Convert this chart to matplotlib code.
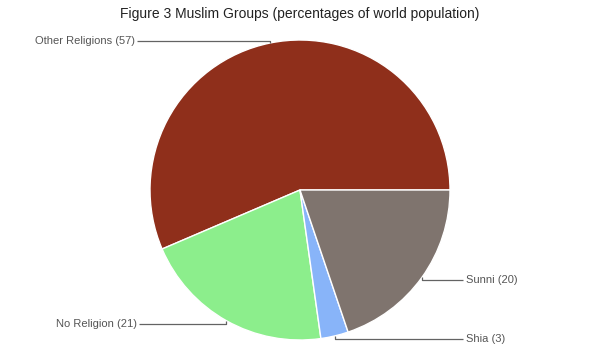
import numpy as np
import matplotlib.pyplot as plt

plt.rcParams['font.family'] = ['Liberation Sans', 'DejaVu Sans']

labels = ["Other Religions", "No Religion", "Shia", "Sunni"]
values = [57, 21, 3, 20]
colors = ["#8f2f1b", "#8cee8c", "#88b4f9", "#7f746e"]

fig = plt.figure(figsize=(6, 3.5), dpi=100)
ax = fig.add_axes([0, 0, 1, 1])
ax.set_xlim(0, 600)
ax.set_ylim(0, 350)
ax.set_aspect("equal")
ax.axis("off")

cx, cy, r = 300, 160, 150
wedges, _ = ax.pie(values, colors=colors, startangle=0, counterclock=True,
                   center=(cx, cy), radius=r, frame=True,
                   wedgeprops=dict(edgecolor="white", linewidth=1))
ax.set_xlim(0, 600)
ax.set_ylim(0, 350)
ax.axis("off")

# label layout: (line y, text x, alignment)
layout = [(309, 135, "right"), (26, 137, "right"), (11, 466, "left"), (70, 466, "left")]
for w, lab, val, (ly, tx, ha) in zip(wedges, labels, values, layout):
    mid = np.deg2rad((w.theta1 + w.theta2) / 2)
    ax_x = cx + r * np.cos(mid)
    ax_y = cy + r * np.sin(mid)
    end_x = tx + 2 if ha == "right" else tx - 3
    ax.plot([ax_x, ax_x, end_x], [ax_y, ly, ly], color="#636363", lw=0.9,
            solid_capstyle="butt")
    ax.text(tx, ly, f"{lab} ({val})", ha=ha, va="center", fontsize=8,
            color="#555555")

fig.text(0.5, 1 - 14 / 350, "Figure 3 Muslim Groups (percentages of world population)",
         ha="center", va="center", fontsize=10, color="#222222")

fig.savefig("out.png", dpi=100)
